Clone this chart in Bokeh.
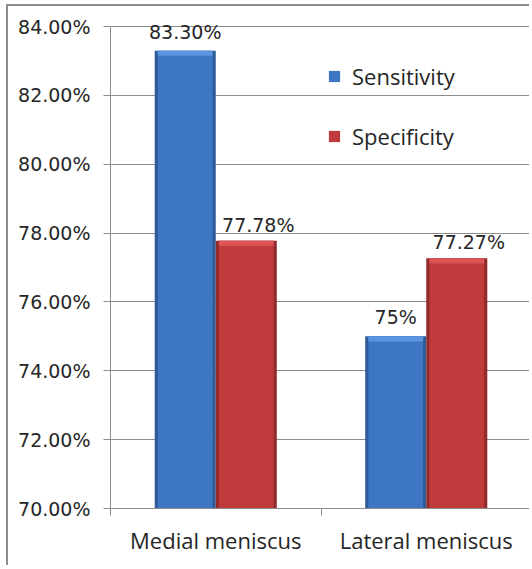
from bokeh.plotting import figure
from bokeh.models import (ColumnDataSource, Range1d, FixedTicker, PrintfTickFormatter,
                          LabelSet, Legend, LegendItem)
from bokeh.core.properties import value
from bokeh.embed import file_html
from bokeh.resources import INLINE

# ---- data ----
categories = ["Medial meniscus", "Lateral meniscus"]
sensitivity = [83.30, 75.00]
specificity = [77.78, 77.27]
sensitivity_labels = ["83.30%", "75%"]
specificity_labels = ["77.78%", "77.27%"]
y_ticks = [70, 72, 74, 76, 78, 80, 82, 84]
series_names = ["Sensitivity", "Specificity"]

# ---- derived positions ----
x_center = [i + 0.5 for i in range(len(categories))]
cat_bounds = list(range(len(categories) + 1))
bar_w = 0.29
inner_w = bar_w - 0.03
sens_x = [c - bar_w / 2 for c in x_center]
spec_x = [c + bar_w / 2 for c in x_center]

sens_src = ColumnDataSource(dict(x=sens_x, top=sensitivity, hl=[v - 0.15 for v in sensitivity],
                                 text=sensitivity_labels))
spec_src = ColumnDataSource(dict(x=spec_x, top=specificity, hl=[v - 0.15 for v in specificity],
                                 text=specificity_labels))

GRID = "#8c8c8c"
TXT = "#262626"
y_lo, y_hi = y_ticks[0], y_ticks[-1]

p = figure(width=523, height=561, x_range=Range1d(0, 2), y_range=Range1d(y_lo, y_hi + 0.35),
           output_backend="svg", toolbar_location=None,
           min_border_left=102, min_border_right=0, min_border_top=8, min_border_bottom=59)
p.styles = {"border-left": "2px solid #8c8c8c", "border-top": "2px solid #8c8c8c",
            "margin-left": "6px", "margin-top": "4px"}
p.outline_line_color = None
p.background_fill_color = "white"
p.border_fill_color = "white"

# bars: outer (edge shade), inner (body), top bevel highlight
def draw_bars(src, edge, body, light):
    p.vbar(x="x", top="top", bottom=y_lo, width=bar_w, source=src, fill_color=edge, line_color=None)
    r = p.vbar(x="x", top="top", bottom=y_lo, width=inner_w, source=src, fill_color=body, line_color=None)
    p.vbar(x="x", top="top", bottom="hl", width=inner_w, source=src, fill_color=light, line_color=None)
    return r

r_sens = draw_bars(sens_src, "#2f5c98", "#3d77c4", "#5b95de")
r_spec = draw_bars(spec_src, "#922c2c", "#c03b3b", "#dc5555")

# axes
p.yaxis.ticker = FixedTicker(ticks=y_ticks)
p.yaxis.bounds = (y_lo, y_hi)
p.yaxis.formatter = PrintfTickFormatter(format="%.2f%%")
p.yaxis.axis_line_color = GRID
p.yaxis.major_tick_line_color = GRID
p.yaxis.major_tick_out = 7
p.yaxis.major_tick_in = 0
p.yaxis.minor_tick_line_color = None
p.yaxis.major_label_standoff = 13
p.yaxis.major_label_text_font = "DejaVu Sans"
p.yaxis.major_label_text_font_size = "19px"
p.yaxis.major_label_text_color = TXT

p.xaxis.ticker = FixedTicker(ticks=x_center, minor_ticks=cat_bounds)
p.xaxis.major_label_overrides = {c: n for c, n in zip(x_center, categories)}
p.xaxis.axis_line_color = GRID
p.xaxis.major_tick_line_color = None
p.xaxis.minor_tick_line_color = GRID
p.xaxis.minor_tick_out = 7
p.xaxis.minor_tick_in = 0
p.xaxis.major_label_standoff = 9
p.xaxis.major_label_text_font = "Open Sans"
p.xaxis.major_label_text_font_size = "22px"
p.xaxis.major_label_text_color = TXT

p.xgrid.visible = False
p.ygrid.ticker = FixedTicker(ticks=y_ticks)
p.ygrid.grid_line_color = GRID

# data labels
lab_kw = dict(text_align="center", text_baseline="alphabetic", text_font_size="19px",
              text_color=TXT, text_font=value("DejaVu Sans"))
p.add_layout(LabelSet(x="x", y="top", text="text", source=sens_src, y_offset=12, **lab_kw))
p.add_layout(LabelSet(x="x", y="top", text="text", source=spec_src, y_offset=9, x_offset=12, **lab_kw))

legend = Legend(items=[LegendItem(label=series_names[0], renderers=[r_sens]),
                       LegendItem(label=series_names[1], renderers=[r_spec])],
                location=(217, 357), padding=0, margin=0, spacing=30,
                glyph_width=14, glyph_height=14, label_height=30, label_standoff=11,
                border_line_color=None, background_fill_alpha=0,
                label_text_font="Open Sans", label_text_font_size="22px", label_text_color=TXT)
p.add_layout(legend)

open("out.html", "w").write(file_html(p, INLINE))
